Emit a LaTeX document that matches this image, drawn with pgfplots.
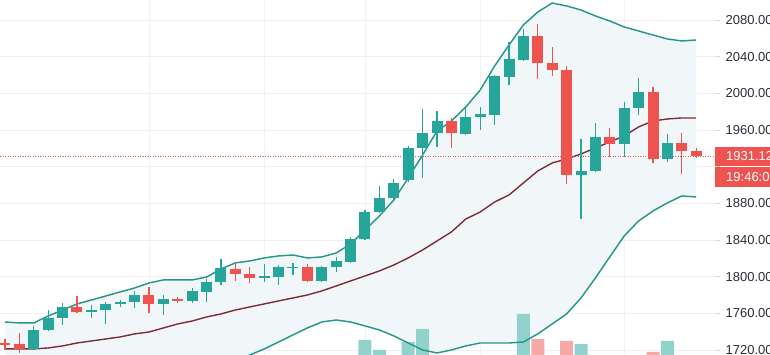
\documentclass[border=0pt]{standalone}
\usepackage{fontspec}
\setmainfont{Liberation Sans}
\usepackage{pgfplots}
\usepackage{pgfplotstable}
\pgfplotsset{compat=1.18}
\usepgfplotslibrary{fillbetween}

\definecolor{cgreen}{HTML}{26A69A}
\definecolor{cred}{HTML}{EF5350}
\definecolor{vgreen}{HTML}{92D2CC}
\definecolor{vred}{HTML}{F7A9A7}
\definecolor{bandc}{HTML}{26968A}
\definecolor{midc}{HTML}{7B2D35}
\definecolor{cfill}{HTML}{F1F7F8}
\definecolor{gridc}{HTML}{EEF0F4}
\definecolor{tickc}{HTML}{D6D8DE}
\definecolor{labc}{HTML}{2A2E39}

\pgfplotstableread{
i O H L C
2 1721.1 1746.2 1719.5 1741.8
3 1741.8 1763.6 1740.5 1754.9
4 1754.9 1771.3 1747.3 1766.9
6 1761.5 1769.1 1754.9 1763.6
7 1763.6 1772.4 1748.4 1770.2
8 1770.2 1774.6 1766.9 1772.4
9 1772.4 1784.4 1765.8 1780.0
11 1770.2 1780.0 1758.2 1775.6
13 1773.5 1787.6 1771.3 1784.4
14 1783.3 1797.4 1772.4 1794.2
15 1794.2 1819.3 1790.9 1809.5
18 1798.5 1813.8 1794.2 1800.7
19 1799.6 1812.7 1790.9 1810.6
20 1809.5 1814.9 1801.8 1810.6
22 1795.3 1811.6 1794.0 1810.6
23 1810.6 1821.5 1805.1 1817.1
24 1816.0 1843.3 1815.0 1841.1
25 1841.1 1872.7 1840.0 1870.5
26 1870.5 1898.9 1869.0 1885.8
27 1885.8 1906.5 1884.0 1902.2
28 1905.4 1942.6 1903.0 1940.4
29 1940.4 1982.9 1907.6 1956.7
30 1956.7 1980.7 1941.5 1969.8
32 1955.6 1984.0 1954.0 1974.2
33 1974.2 1985.1 1960.0 1977.5
34 1976.4 2020.0 1965.5 2018.9
35 2017.8 2056.0 2009.1 2037.5
36 2036.4 2070.2 2035.0 2062.5
40 1910.9 1950.2 1862.9 1915.3
41 1915.3 1967.6 1914.0 1952.4
43 1944.7 1990.5 1930.6 1984.0
44 1984.0 2016.7 1976.4 2001.5
46 1928.4 1955.6 1925.1 1945.8
}\upc

\pgfplotstableread{
i O H L C
0 1727.6 1732.0 1720.0 1725.5
1 1726.5 1738.6 1716.7 1721.1
5 1766.9 1778.9 1760.0 1761.5
10 1780.0 1788.7 1760.4 1770.2
12 1775.6 1777.8 1771.3 1773.5
16 1808.4 1814.9 1795.3 1802.9
17 1802.9 1810.6 1793.1 1798.5
21 1810.6 1813.8 1794.2 1795.3
31 1969.8 1973.1 1940.4 1956.7
37 2062.5 2075.6 2015.6 2033.1
38 2033.1 2050.5 2018.9 2025.5
39 2025.5 2029.8 1901.1 1910.9
42 1952.4 1962.2 1930.6 1944.7
45 2001.5 2006.9 1924.0 1928.4
47 1945.8 1956.7 1912.0 1937.1
48 1937.1 1940.4 1929.5 1931.12
}\downc

\pgfplotstableread{
i up mid lo
0 1750.5 1721.1 1691.7
1 1749.5 1721.1 1692.7
2 1749.5 1721.1 1692.7
3 1757.1 1722.2 1687.3
4 1763.6 1724.4 1685.2
5 1770.2 1727.6 1685.0
6 1774.5 1729.8 1685.1
7 1778.9 1732.0 1685.1
8 1783.3 1734.2 1685.1
9 1787.6 1737.5 1687.4
10 1793.1 1739.6 1686.1
11 1796.4 1744.0 1691.6
12 1796.4 1748.4 1700.4
13 1796.4 1751.6 1704.8
14 1799.6 1756.0 1706.4
15 1808.4 1759.3 1706.2
16 1815.0 1763.6 1708.2
17 1817.1 1766.9 1714.5
18 1820.4 1770.2 1721.1
19 1822.6 1773.5 1728.7
20 1823.6 1776.7 1736.4
21 1820.4 1780.0 1744.0
22 1821.5 1784.4 1750.5
23 1825.8 1789.8 1752.7
24 1835.6 1795.3 1750.5
25 1850.9 1800.7 1746.2
26 1866.2 1806.2 1741.8
27 1883.6 1812.7 1735.3
28 1907.6 1820.4 1727.6
29 1932.7 1829.1 1720.0
30 1958.9 1838.9 1716.7
31 1969.8 1848.7 1720.0
32 1985.1 1862.9 1724.4
33 2003.6 1870.5 1727.6
34 2029.8 1881.4 1727.6
35 2052.7 1889.1 1727.6
36 2074.6 1902.2 1728.7
37 2088.7 1915.3 1737.5
38 2098.5 1924.0 1748.4
39 2095.3 1928.4 1759.3
40 2090.9 1933.8 1776.7
41 2084.4 1940.4 1798.5
42 2078.9 1946.9 1821.5
43 2072.4 1953.5 1844.4
44 2068.0 1963.3 1860.7
45 2063.6 1969.8 1871.6
46 2059.3 1972.0 1880.4
47 2057.1 1973.1 1888.0
48 2058.2 1973.1 1886.9
}\bands

\begin{document}
\begin{tikzpicture}
\begin{axis}[
  at={(0,0)}, anchor=south west,
  scale only axis, width=715pt, height=355pt,
  xmin=-0.347, xmax=49.306, ymin=1714.5, ymax=2101.8,
  axis line style={draw=none},
  xtick={10,18,25,33,43}, xticklabels={}, xmajorgrids,
  ytick={1720,1760,1800,1840,1880,1920,1960,2000,2040,2080},
  yticklabels={1720.00,1760.00,1800.00,1840.00,1880.00,{},1960.00,2000.00,2040.00,2080.00},
  ymajorgrids,
  grid style={draw=gridc, line width=0.8pt},
  ytick pos=right, yticklabel pos=right,
  tick align=outside, major tick length=5pt,
  xtick style={draw=none},
  ytick style={draw=tickc, line width=0.8pt},
  yticklabel style={font=\fontsize{13}{13}\selectfont, text=labc, anchor=west, inner sep=0pt, xshift=5.5pt},
]
\addplot[name path=upper, draw=none, forget plot] table[x=i,y=up]{\bands};
\addplot[name path=lower, draw=none, forget plot] table[x=i,y=lo]{\bands};
\addplot[cfill, forget plot] fill between[of=upper and lower];

\addplot[ybar, bar width=13pt, bar shift=0pt, fill=vgreen, draw=none]
  coordinates {(25,1730.9) (26,1720.0) (28,1728.7) (29,1742.9) (36,1759.3) (40,1726.5) (46,1729.8)};
\addplot[ybar, bar width=13pt, bar shift=0pt, fill=vred, draw=none]
  coordinates {(37,1732.0) (39,1729.8) (45,1717.8)};

\addplot[bandc, line width=1.45pt] table[x=i,y=up]{\bands};
\addplot[bandc, line width=1.45pt] table[x=i,y=lo]{\bands};
\addplot[midc, line width=1.4pt] table[x=i,y=mid]{\bands};

\addplot[cred, line width=0.8pt, dash pattern=on 1pt off 1.5pt] coordinates {(-0.347,1931.12) (49.306,1931.12)};

% wicks
\addplot[draw=none, mark=none, error bars/.cd, y dir=minus, y explicit, error mark=none,
  error bar style={draw=cgreen, line width=1.1pt, solid}]
  table[x=i, y=H, y error minus expr={\thisrow{H}-\thisrow{L}}]{\upc};
\addplot[draw=none, mark=none, error bars/.cd, y dir=minus, y explicit, error mark=none,
  error bar style={draw=cred, line width=1.1pt, solid}]
  table[x=i, y=H, y error minus expr={\thisrow{H}-\thisrow{L}}]{\downc};
% bodies
\addplot[draw=none, mark=none, error bars/.cd, y dir=minus, y explicit, error mark=none,
  error bar style={draw=cgreen, line width=11pt, solid}]
  table[x=i, y=C, y error minus expr={\thisrow{C}-\thisrow{O}}]{\upc};
\addplot[draw=none, mark=none, error bars/.cd, y dir=minus, y explicit, error mark=none,
  error bar style={draw=cred, line width=11pt, solid}]
  table[x=i, y=O, y error minus expr={\thisrow{O}-\thisrow{C}}]{\downc};

\coordinate (p) at (axis cs:49.306,1931.12);
\end{axis}
\fill[cred] ([yshift=-9.5pt]p) rectangle ([xshift=70pt,yshift=9.5pt]p);
\fill[cred] ([yshift=-31pt]p) rectangle ([xshift=70pt,yshift=-10.2pt]p);
\node[anchor=west, inner sep=0pt, text=white, font=\fontsize{13}{13}\selectfont] at ([xshift=11pt]p) {1931.12};
\node[anchor=west, inner sep=0pt, text=white, font=\fontsize{13}{13}\selectfont] at ([xshift=11pt,yshift=-20.6pt]p) {19:46:02};
\pgfresetboundingbox
\path (0,0) rectangle (770pt,355pt);
\end{tikzpicture}
\end{document}
